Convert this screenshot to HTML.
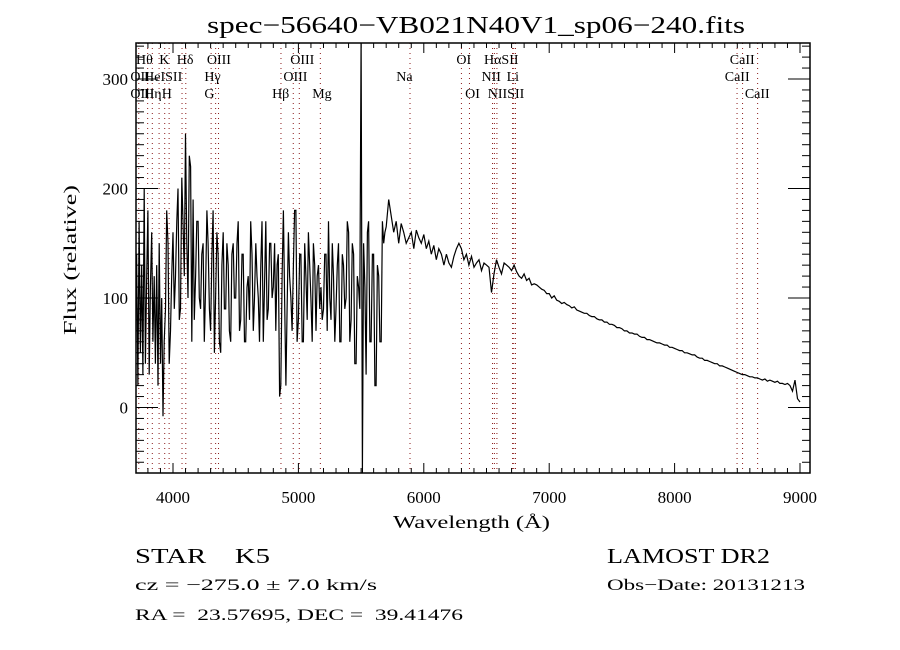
<!DOCTYPE html>
<html><head><meta charset="utf-8">
<style>
body{margin:0;background:#fff;}
svg{display:block;font-family:"Liberation Serif",serif;}
</style></head>
<body>
<svg id="chart" width="900" height="650" xmlns="http://www.w3.org/2000/svg">
<rect width="900" height="650" fill="#fff"/>
<text x="207" y="33" font-size="24" textLength="538" lengthAdjust="spacingAndGlyphs">spec−56640−VB021N40V1_sp06−240.fits</text>
<g id="lines"></g>
<g id="spec"></g>
<g id="axes"></g>
<text x="393" y="528" font-size="18" textLength="157" lengthAdjust="spacingAndGlyphs">Wavelength (Å)</text>
<text transform="translate(76,335) rotate(-90)" font-size="18" textLength="150" lengthAdjust="spacingAndGlyphs">Flux (relative)</text>
<text x="135" y="563" font-size="21" textLength="135" lengthAdjust="spacingAndGlyphs" xml:space="preserve">STAR    K5</text>
<text x="607" y="563" font-size="21" textLength="163" lengthAdjust="spacingAndGlyphs">LAMOST DR2</text>
<text x="135" y="590" font-size="16" textLength="242" lengthAdjust="spacingAndGlyphs">cz = −275.0 ± 7.0 km/s</text>
<text x="607" y="590" font-size="16" textLength="198" lengthAdjust="spacingAndGlyphs">Obs−Date: 20131213</text>
<text x="135" y="620" font-size="16" textLength="328" lengthAdjust="spacingAndGlyphs" xml:space="preserve">RA =  23.57695, DEC =  39.41476</text>
</svg>
<script>
const blueStart = 3700;
const blueStep = 10;
const fluxBlue = [
60,140,20,170,50,130,30,200,40,120,
180,30,110,160,60,120,40,130,20,150,
40,100,-8,60,90,180,150,40,70,120,
160,90,120,170,200,80,90,210,170,120,
250,150,100,230,220,60,190,80,120,170,
170,100,90,140,150,60,110,180,150,90,
70,140,180,50,100,160,140,60,50,130,
160,90,90,150,130,70,60,140,150,100,
100,150,170,70,80,140,140,60,60,110,
120,80,170,140,70,100,150,120,100,60,
130,170,60,110,170,80,90,150,150,100,
110,150,70,130,140,10,20,120,180,100,
20,90,160,120,100,70,130,180,180,60,
80,140,140,60,60,150,120,80,160,130,
100,60,150,130,70,120,130,90,110,80,
90,140,140,70,170,100,80,150,120,60,
90,130,150,60,60,140,130,90,100,170,
160,60,80,150,140,40,40,120,110,90,
340,-60,150,110,30,160,170,60,60,140,
140,20,20,130,120,60,60,170,150,160
];
const redStart = 5700;
const redStep = 20;
const fluxRed = [
165,190,175,160,170,150,168,160,150,155,
160,145,162,155,150,158,145,152,140,148,
135,145,140,130,140,132,128,138,145,150,
145,135,140,130,138,128,132,135,125,132,
130,128,105,122,135,128,122,132,130,128,
125,130,124,120,118,122,116,118,112,113,
112,110,108,107,104,104,100,102,98,97,
95,96,94,93,91,92,89,88,87,86,
86,84,83,83,81,80,80,78,78,76,
76,75,73,73,72,70,70,68,68,67,
67,65,64,64,62,62,61,60,59,59,
58,57,57,55,55,54,53,52,52,50,
50,49,48,48,46,45,45,43,43,42,
41,40,40,38,38,37,36,35,34,33,
32,31,30,30,29,28,28,27,27,26,
25,26,24,25,24,23,24,22,22,21,
22,20,15,25,8,5
];
const xTicks = [4000,5000,6000,7000,8000,9000];
const yTicks = [0,100,200,300];
const lineWl = [3727,3798,3835,3889,3934,3969,4072,4102,4304,4340,4363,4861,4959,5007,5175,5890,6300,6364,6548,6563,6583,6708,6717,6731,8498,8542,8662];
const labelText = ["Hθ","K","Hδ","OIII","OIII","OI","HαSII","CaII",
 "OII","HeISII","Hγ","OIII","Na","NII","Li","CaII",
 "OIII","Hη","H","G","Hβ","Mg","OI","NIISII","CaII"];
const labelWl = [3705,3890,4030,4270,4935,6260,6480,8440,
 3660,3770,4250,4880,5780,6460,6660,8400,
 3660,3770,3910,4250,4790,5110,6330,6510,8560];
const labelRow = [0,0,0,0,0,0,0,0,1,1,1,1,1,1,1,1,2,2,2,2,2,2,2,2,2];

const L=136,R=810,T=43,B=473;
const X = w => 173 + (w-4000)*0.1254;
const Y = f => 407.5 - f*1.095;
const NS="http://www.w3.org/2000/svg";
function mk(tag, attrs, parent){const e=document.createElementNS(NS,tag);for(const k in attrs)e.setAttribute(k,attrs[k]);parent.appendChild(e);return e;}
const svg=document.getElementById('chart');
const gL=document.getElementById('lines'), gS=document.getElementById('spec'), gA=document.getElementById('axes');

const defs=mk('defs',{},svg);
const cp=mk('clipPath',{id:'pc'},defs);
mk('rect',{x:L,y:T,width:R-L,height:B-T},cp);

lineWl.forEach(w=>{
  const l=mk('line',{x1:X(w),x2:X(w),y1:T,y2:B,stroke:'#8b1a1a','stroke-width':1,'stroke-dasharray':'1,4'},gL);
  
  
});
labelText.forEach((t,i)=>{
  const tx=mk('text',{x:X(labelWl[i]),y:64+labelRow[i]*17,'font-size':14},gL);
  tx.textContent=t;
  
  
});

let d='';
fluxBlue.forEach((f,i)=>{d+=(i?'L':'M')+X(blueStart+i*blueStep).toFixed(1)+','+Y(f).toFixed(1);});
fluxRed.forEach((f,i)=>{d+='L'+X(redStart+i*redStep).toFixed(1)+','+Y(f).toFixed(1);});
const p=mk('path',{d:d,fill:'none',stroke:'#000','stroke-width':1.2,'clip-path':'url(#pc)'},gS);



const fr=mk('rect',{x:L,y:T,width:R-L,height:B-T,fill:'none',stroke:'#000','stroke-width':1.5},gA);


for(let w=3800;w<=9000;w+=100){
  const major=w%1000===0, len=major?10:5;
  mk('line',{x1:X(w),x2:X(w),y1:B,y2:B-len,stroke:'#000'},gA);
  mk('line',{x1:X(w),x2:X(w),y1:T,y2:T+len,stroke:'#000'},gA);
}
xTicks.forEach(w=>{
  const t=mk('text',{x:X(w),y:503,'font-size':17,'text-anchor':'middle'},gA);
  t.textContent=w;
  
  
});
for(let f=-50;f<=330;f+=10){
  const major=f%100===0, len=major?22:8;
  mk('line',{x1:L,x2:L+len,y1:Y(f),y2:Y(f),stroke:'#000'},gA);
  mk('line',{x1:R,x2:R-len,y1:Y(f),y2:Y(f),stroke:'#000'},gA);
}
yTicks.forEach(f=>{
  const t=mk('text',{x:128,y:Y(f)+6,'font-size':17,'text-anchor':'end'},gA);
  t.textContent=f;
  
  
});
</script>
</body></html>
